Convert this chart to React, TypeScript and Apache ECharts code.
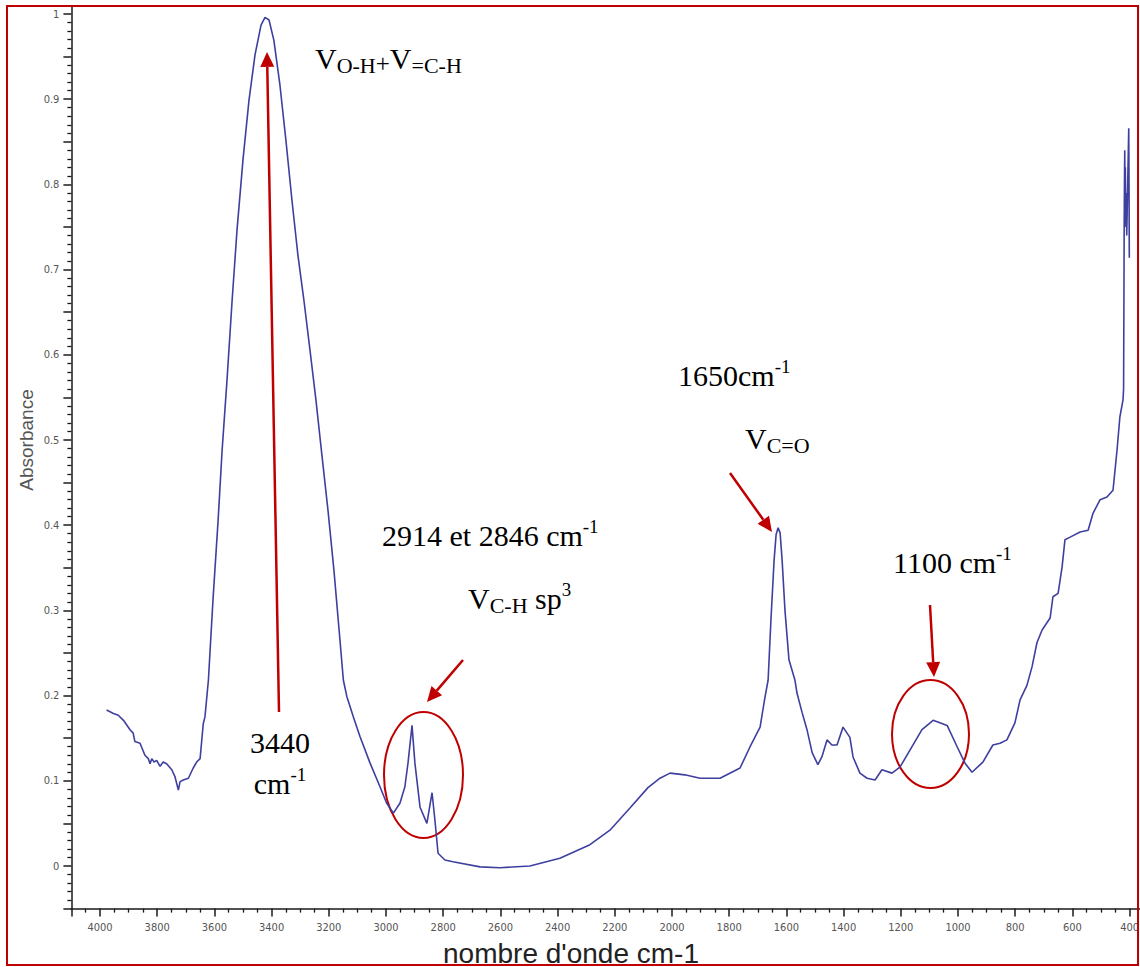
import React, { useEffect, useRef } from 'react';
import * as echarts from 'echarts';

const wavenumber = [
  3977, 3953, 3936, 3918, 3895, 3884, 3878, 3860, 3843, 3831, 3825, 3819, 3811, 3802, 3790, 3779, 3767, 3749, 3738, 3726,
  3720, 3709, 3691, 3674, 3662, 3650, 3639, 3633, 3621, 3605, 3587, 3573, 3556, 3538, 3521, 3500, 3479, 3458, 3437, 3423,
  3409, 3392, 3371, 3350, 3329, 3308, 3287, 3266, 3245, 3224, 3203, 3182, 3164, 3149, 3137, 3114, 3091, 3056, 3021, 2998,
  2974, 2951, 2934, 2923, 2909, 2899, 2881, 2857, 2839, 2829, 2818, 2794, 2766, 2671, 2601, 2497, 2392, 2287, 2217, 2147,
  2084, 2042, 2007, 1955, 1902, 1832, 1762, 1727, 1692, 1675, 1664, 1654, 1643, 1636, 1629, 1622, 1615, 1605, 1591, 1570,
  1563, 1545, 1528, 1510, 1490, 1476, 1458, 1441, 1423, 1402, 1378, 1367, 1343, 1318, 1290, 1266, 1231, 1203, 1168, 1126,
  1087, 1038, 1003, 976, 951, 913, 878, 853, 829, 801, 783, 759, 741, 724, 706, 678, 668, 650, 636, 626,
  608, 573, 545, 528, 503, 479, 458, 444, 434, 423, 421, 420, 419, 418, 417, 416, 415, 413, 412, 410,
  403, 402, 401,
];
const absorbance = [
  0.183, 0.179, 0.177, 0.171, 0.16, 0.156, 0.146, 0.144, 0.13, 0.126, 0.12, 0.126, 0.122, 0.124, 0.117, 0.122, 0.12, 0.113, 0.105, 0.089,
  0.099, 0.101, 0.103, 0.115, 0.122, 0.126, 0.167, 0.175, 0.218, 0.312, 0.406, 0.488, 0.57, 0.664, 0.746, 0.829, 0.899, 0.952, 0.987, 0.996,
  0.993, 0.969, 0.917, 0.852, 0.782, 0.717, 0.664, 0.606, 0.547, 0.482, 0.418, 0.347, 0.277, 0.218, 0.199, 0.175, 0.152, 0.121, 0.093, 0.074,
  0.062, 0.074, 0.093, 0.121, 0.165, 0.121, 0.069, 0.05, 0.086, 0.054, 0.015, 0.007, 0.005, -0.001, -0.002, 0.0, 0.009, 0.025, 0.042, 0.068,
  0.092, 0.103, 0.109, 0.107, 0.103, 0.103, 0.115, 0.14, 0.163, 0.198, 0.218, 0.289, 0.359, 0.389, 0.397, 0.391, 0.359, 0.3, 0.242, 0.218,
  0.203, 0.18, 0.16, 0.133, 0.119, 0.128, 0.148, 0.142, 0.142, 0.163, 0.151, 0.128, 0.109, 0.103, 0.101, 0.113, 0.109, 0.116, 0.136, 0.16,
  0.171, 0.165, 0.14, 0.121, 0.11, 0.122, 0.142, 0.144, 0.148, 0.168, 0.195, 0.212, 0.234, 0.262, 0.277, 0.291, 0.316, 0.32, 0.351, 0.383,
  0.386, 0.392, 0.394, 0.414, 0.43, 0.433, 0.441, 0.488, 0.527, 0.547, 0.56, 0.65, 0.747, 0.8, 0.84, 0.78, 0.82, 0.75, 0.79, 0.74,
  0.866, 0.8, 0.714,
];

const X_MIN = 200;
const X_MAX = 4100;
const Y_MIN = -0.05;
const Y_MAX = 1.05;
const Y_INTERVAL = 0.05;

const RED = '#c00000';
const SERIF = "'Liberation Serif', 'Times New Roman', serif";
const SANS = "'Liberation Sans', Arial, sans-serif";
const TICKFONT = "'DejaVu Sans Condensed', 'DejaVu Sans', sans-serif";

const rich: any = {
  m: { fontFamily: SERIF, fontSize: 30, lineHeight: 36, verticalAlign: 'middle', fill: '#000', color: '#000' },
  s: { fontFamily: SERIF, fontSize: 22, lineHeight: 20, verticalAlign: 'bottom', fill: '#000', color: '#000' },
  q: { fontFamily: SERIF, fontSize: 25, lineHeight: 31, verticalAlign: 'bottom', fill: '#000', color: '#000' },
  p: { fontFamily: SERIF, fontSize: 19, lineHeight: 16, verticalAlign: 'top', fill: '#000', color: '#000' },
};

function label(text: string, x: number, baseline: number, align: string = 'left') {
  return {
    type: 'text',
    x,
    y: baseline - 28,
    style: { text, rich, align, verticalAlign: 'top', fill: '#000' },
  };
}

function arrow(x1: number, y1: number, x2: number, y2: number) {
  const dx = x2 - x1;
  const dy = y2 - y1;
  const len = Math.sqrt(dx * dx + dy * dy);
  const ux = dx / len;
  const uy = dy / len;
  const L = 15;
  const W = 14;
  const bx = x2 - ux * L;
  const by = y2 - uy * L;
  const nx = -uy;
  const ny = ux;
  return [
    { type: 'line', shape: { x1, y1, x2: bx, y2: by }, style: { stroke: RED, lineWidth: 2.5 } },
    {
      type: 'polygon',
      shape: { points: [[x2, y2], [bx + (nx * W) / 2, by + (ny * W) / 2], [bx - (nx * W) / 2, by - (ny * W) / 2]] },
      style: { fill: RED },
    },
  ];
}

function xFmt(v: number) {
  return Math.abs(v % 200) < 1e-6 && v >= 400 ? String(Math.round(v)) : '';
}
function yFmt(v: number) {
  const r = Math.round(v * 10);
  if (Math.abs(v * 10 - r) > 1e-6) return '';
  if (r > 10) return '';
  if (r === 0) return '0';
  if (r === 10) return '1';
  return (r / 10).toFixed(1);
}

const axisColor = '#1a1a1a';
// pixel scale: 0.286 px per cm-1, 852 px per absorbance unit
const GRID = { left: 71.4, top: -28.6, width: 1115.4, height: 937.2, containLabel: false, outerBoundsMode: 'none' };

export default function App() {
  const ref = useRef<HTMLDivElement>(null);
  useEffect(() => {
    if (!ref.current) return;
    const chart = echarts.init(ref.current, undefined, { renderer: 'svg' });
    const data = wavenumber.map((w, i) => [w, absorbance[i]]);
    const option: any = {
      animation: false,
      backgroundColor: '#ffffff',
      grid: GRID,
      xAxis: {
        type: 'value',
        min: X_MIN,
        max: X_MAX,
        inverse: true,
        position: 'bottom',
        splitNumber: 19,
        splitLine: { show: false },
        axisLine: { show: true, onZero: false, lineStyle: { color: axisColor, width: 1.5 } },
        axisTick: { show: true, length: 8, lineStyle: { color: axisColor, width: 1.5 } },
        minorTick: { show: true, splitNumber: 4, length: 4, lineStyle: { color: axisColor, width: 1.3 } },
        minorSplitLine: { show: false },
        axisLabel: { formatter: xFmt, color: '#555', fontSize: 11, fontFamily: TICKFONT, margin: 13, showMinLabel: false, showMaxLabel: false },
      },
      yAxis: {
        type: 'value',
        min: Y_MIN,
        max: Y_MAX,
        interval: Y_INTERVAL,
        position: 'left',
        splitLine: { show: false },
        axisLine: { show: true, onZero: false, lineStyle: { color: axisColor, width: 1.5 } },
        axisTick: { show: true, length: 8, lineStyle: { color: axisColor, width: 1.5 } },
        minorTick: { show: true, splitNumber: 5, length: 4, lineStyle: { color: axisColor, width: 1.3 } },
        minorSplitLine: { show: false },
        axisLabel: { formatter: yFmt, color: '#555', fontSize: 11, fontFamily: TICKFONT, margin: 12 },
      },
      series: [
        {
          type: 'line',
          data,
          showSymbol: false,
          symbol: 'none',
          lineStyle: { color: '#3f3fa0', width: 1.6 },
          z: 3,
        },
      ],
      graphic: {
        elements: [
          { type: 'rect', shape: { x: 0, y: 0, width: 1140, height: 5 }, style: { fill: '#ffffff' }, z: 9 },
          { type: 'rect', shape: { x: 7, y: 6, width: 1131, height: 959 }, style: { fill: 'none', stroke: RED, lineWidth: 2 }, z: 10 },
          {
            type: 'text',
            x: 26,
            y: 440,
            rotation: Math.PI / 2,
            style: { text: 'Absorbance', fontFamily: SANS, fontSize: 19, fill: '#555', align: 'center', verticalAlign: 'middle' },
          },
          {
            type: 'text',
            x: 571,
            y: 953,
            style: { text: "nombre d'onde cm-1", fontFamily: SANS, fontSize: 28, fill: '#222', align: 'center', verticalAlign: 'middle' },
          },
          { type: 'ellipse', shape: { cx: 423.5, cy: 775, rx: 39.5, ry: 63 }, style: { fill: 'none', stroke: RED, lineWidth: 2 } },
          { type: 'ellipse', shape: { cx: 930.5, cy: 734, rx: 38.5, ry: 54 }, style: { fill: 'none', stroke: RED, lineWidth: 2 } },
          ...arrow(279, 712, 267, 52),
          ...arrow(463, 660, 427, 702),
          ...arrow(730, 473, 772, 532),
          ...arrow(930, 605, 934, 677),
          label('{m|V}{s|O-H}{q|+}{m|V}{s|=C-H}', 315, 68),
          label('{m|3440}', 280, 752, 'center'),
          label('{m|cm}{p|-1}', 280, 793, 'center'),
          label('{m|2914 et 2846 cm}{p|-1}', 382, 545),
          label('{m|V}{s|C-H}{m| sp}{p|3}', 468, 608),
          label('{m|1650cm}{p|-1}', 678, 385),
          label('{m|V}{s|C=O}', 745, 448),
          label('{m|1100 cm}{p|-1}', 893, 572),
        ],
      },
    };
    chart.setOption(option);
    return () => chart.dispose();
  }, []);
  return <div ref={ref} style={{ position: 'fixed', left: 0, top: 0, width: 1140, height: 967 }} />;
}
